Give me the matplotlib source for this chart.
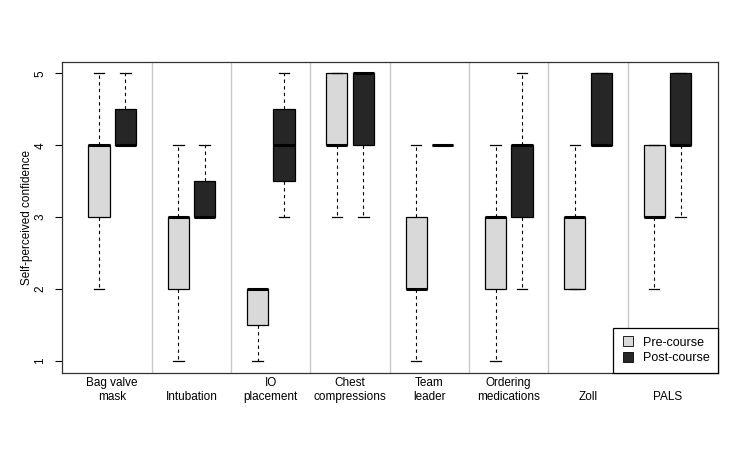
import matplotlib
matplotlib.use("Agg")
import matplotlib.pyplot as plt
from matplotlib.lines import Line2D

plt.rcParams['font.family'] = ['Liberation Sans', 'DejaVu Sans']

categories = ["Bag valve\nmask", "Intubation", "IO\nplacement", "Chest\ncompressions",
              "Team\nleader", "Ordering\nmedications", "Zoll", "PALS"]
# (whislo, q1, med, q3, whishi)
pre_stats = [(2, 3, 4, 4, 5), (1, 2, 3, 3, 4), (1, 1.5, 2, 2, 2), (3, 4, 4, 5, 5),
             (1, 2, 2, 3, 4), (1, 2, 3, 3, 4), (2, 2, 3, 3, 4), (2, 3, 3, 4, 4)]
post_stats = [(4, 4, 4, 4.5, 5), (3, 3, 3, 3.5, 4), (3, 3.5, 4, 4.5, 5), (3, 4, 5, 5, 5),
              (4, 4, 4, 4, 4), (2, 3, 4, 4, 5), (4, 4, 4, 5, 5), (3, 4, 4, 5, 5)]
series_names = ["Pre-course", "Post-course"]
yticks = [1, 2, 3, 4, 5]

pre_color = "#d9d9d9"
post_color = "#262626"

fig = plt.figure(figsize=(7.5, 4.5), dpi=100)
ax = fig.add_axes([0.0823, 0.1718, 0.8755, 0.6911])

def to_bxp(s):
    return dict(whislo=s[0], q1=s[1], med=s[2], q3=s[3], whishi=s[4], fliers=[])

n = len(categories)
pre_pos = [3 * i + 1 for i in range(n)]
post_pos = [3 * i + 2 for i in range(n)]

for stats, pos, col in [(pre_stats, pre_pos, pre_color), (post_stats, post_pos, post_color)]:
    ax.bxp([to_bxp(s) for s in stats], positions=pos, widths=0.8, patch_artist=True,
           showfliers=False,
           boxprops=dict(facecolor=col, edgecolor="black", linewidth=0.9),
           medianprops=dict(color="black", linewidth=2.2, solid_capstyle="butt"),
           whiskerprops=dict(color="black", linewidth=0.8, linestyle=(0, (3, 3))),
           capprops=dict(color="black", linewidth=0.9),
           capwidths=0.4, zorder=3)

for i in range(1, n):
    ax.axvline(3 * i, color="#c8c8c8", linewidth=1.0, zorder=1)

ax.set_xlim(-0.41, 24.43)
ax.set_ylim(0.84, 5.16)
ax.set_xticks([])
ax.set_yticks(yticks)
ax.set_yticklabels([str(v) for v in yticks])
ax.tick_params(axis='y', direction='out', length=5, width=0.8, pad=6, labelsize=8.5,
               labelrotation=90)
for lbl in ax.get_yticklabels():
    lbl.set_verticalalignment('center')
for sp in ax.spines.values():
    sp.set_linewidth(0.9)
    sp.set_color("#333333")

ax.set_ylabel("Self-perceived confidence", fontsize=8.5)
ax.yaxis.set_label_coords(-0.053, 0.5)
ax.yaxis.label.set_verticalalignment('center')

for i, cat in enumerate(categories):
    ax.text(3 * i + 1.5, -0.096, cat, transform=ax.get_xaxis_transform(),
            ha='center', va='bottom', multialignment='center', fontsize=8.5,
            linespacing=1.2)

handles = [Line2D([], [], linestyle='none', marker='s', markersize=6.5,
                  markerfacecolor=c, markeredgecolor='black', markeredgewidth=0.6)
           for c in (pre_color, post_color)]
leg = ax.legend(handles, series_names, loc='lower right', borderaxespad=0,
                fontsize=9, frameon=True, fancybox=False, framealpha=1,
                edgecolor='black', handlelength=1.0, handletextpad=0.7,
                borderpad=0.7, labelspacing=0.25)
leg.get_frame().set_linewidth(0.9)
leg.set_zorder(5)

fig.savefig("out.png", dpi=100)
